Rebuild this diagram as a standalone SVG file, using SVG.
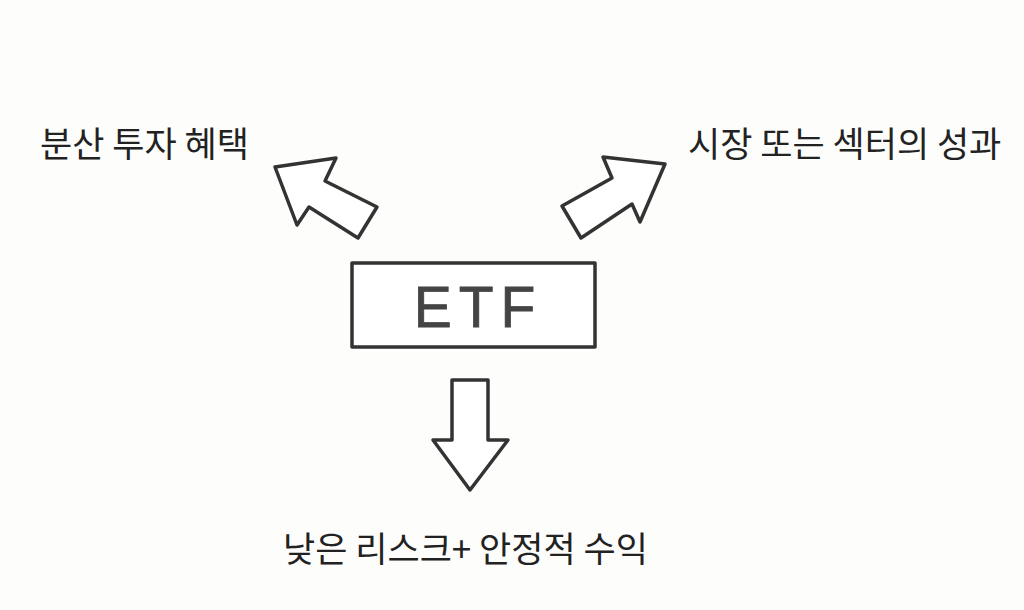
<svg xmlns="http://www.w3.org/2000/svg" width="1024" height="610" viewBox="0 0 1024 610">
<style>
.lbl{font-family:"Noto Sans CJK KR","Noto Sans",sans-serif;font-size:35px;fill:#222}
.shape{fill:#fff;stroke:#333;stroke-width:3.5;stroke-linejoin:round;stroke-linecap:round}
.etf{font-family:"Liberation Sans",Arial,sans-serif;font-size:57px;fill:#444;stroke:#444;stroke-width:0.8;letter-spacing:7px}
</style>
<rect width="1024" height="610" fill="#fdfdfc"/>
<g id="label-left"><text class="lbl" x="40" y="157">분산 투자 혜택</text></g>
<g id="label-right"><text class="lbl" x="688" y="157">시장 또는 섹터의 성과</text></g>
<g id="label-bottom"><text class="lbl" x="283" y="562">낮은 리스크+ 안정적 수익</text></g>
<g id="etf">
<rect class="shape" x="352" y="263" width="243" height="84"/>
<text class="etf" x="478" y="327" text-anchor="middle">ETF</text>
</g>
<g id="connectors">
<polygon class="shape" points="275,167 336,158 325,181 377,207 358,238 309,207 297,225"/>
<polygon class="shape" points="665,164 640,222 632,204 581,238 562,206 612,178 603,157"/>
<polygon class="shape" points="452,380 488,380 488,440 508,440 470,490 433,440 452,440"/>
</g>
</svg>
